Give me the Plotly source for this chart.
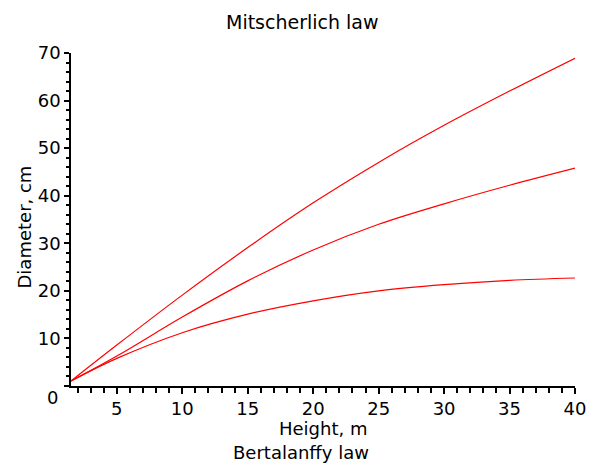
import plotly.graph_objects as go

# Tree height (m) vs diameter (cm) for three Mitscherlich-type growth curves
height_m = [1.5, 5, 10, 15, 20, 25, 30, 35, 40]
diameter_high = [1.05, 8.6, 19.1, 29.1, 38.5, 47.0, 54.8, 62.0, 68.9]
diameter_mid = [1.05, 6.3, 14.5, 22.1, 28.6, 34.0, 38.3, 42.2, 45.8]
diameter_low = [1.05, 5.8, 11.2, 15.1, 17.9, 20.0, 21.3, 22.2, 22.7]

x_ticks = [5, 10, 15, 20, 25, 30, 35, 40]
y_ticks = [0, 10, 20, 30, 40, 50, 60, 70]
y_tick_labels = ["", "10", "20", "30", "40", "50", "60", "70"]

W, H = 598, 466
ML, MR, MT, MB = 71, 21, 53, 80
FONT = dict(family="DejaVu Sans", size=18, color="black")
TITLE_FONT = dict(family="DejaVu Sans", size=19, color="black")

fig = go.Figure()
for series in (diameter_high, diameter_mid, diameter_low):
    fig.add_trace(go.Scatter(
        x=height_m, y=series, mode="lines",
        line=dict(color="#ff0000", width=1.2, shape="spline", smoothing=1.0),
        showlegend=False, hoverinfo="skip",
    ))

plot_w = W - ML - MR


def paper_x(px):
    return (px - ML) / plot_w


fig.update_layout(
    width=W, height=H,
    margin=dict(l=ML, r=MR, t=MT, b=MB, pad=0),
    paper_bgcolor="white", plot_bgcolor="white",
    font=FONT,
    xaxis=dict(
        range=[1.5, 40], showgrid=False, zeroline=False,
        showline=True, linecolor="black", linewidth=1.5,
        tickmode="array", tickvals=x_ticks,
        ticks="outside", ticklen=6, tickwidth=1.5, tickcolor="black",
        minor=dict(dtick=1, tick0=0, ticks="outside", ticklen=5,
                   tickwidth=1.5, tickcolor="black", showgrid=False),
        tickfont=FONT,
    ),
    yaxis=dict(
        range=[0, 70], showgrid=False, zeroline=False,
        showline=True, linecolor="black", linewidth=1.5,
        tickmode="array", tickvals=y_ticks, ticktext=y_tick_labels,
        ticks="outside", ticklen=5, tickwidth=1.5, tickcolor="black",
        minor=dict(dtick=2, tick0=0, ticks="outside", ticklen=3,
                   tickwidth=1.5, tickcolor="black", showgrid=False),
        tickfont=FONT,
    ),
    annotations=[
        dict(text="Mitscherlich law", xref="paper", yref="paper",
             x=paper_x(303), y=1, yshift=31, xanchor="center",
             yanchor="middle", showarrow=False, font=TITLE_FONT),
        dict(text="Height, m", xref="paper", yref="paper",
             x=0.5, y=0, yshift=-42, xanchor="center", yanchor="middle",
             showarrow=False, font=FONT),
        dict(text="Bertalanffy law", xref="paper", yref="paper",
             x=paper_x(302), y=0, yshift=-66, xanchor="center",
             yanchor="middle", showarrow=False, font=FONT),
        dict(text="Diameter, cm", xref="paper", yref="paper",
             x=0, xshift=-47, y=0.5, yshift=-8, textangle=-90,
             xanchor="center", yanchor="middle", showarrow=False, font=FONT),
        dict(text="0", xref="paper", yref="y", x=0, xshift=-11, y=0,
             yshift=-11, xanchor="right", yanchor="middle",
             showarrow=False, font=FONT),
    ],
)

fig.write_html("out.html")
